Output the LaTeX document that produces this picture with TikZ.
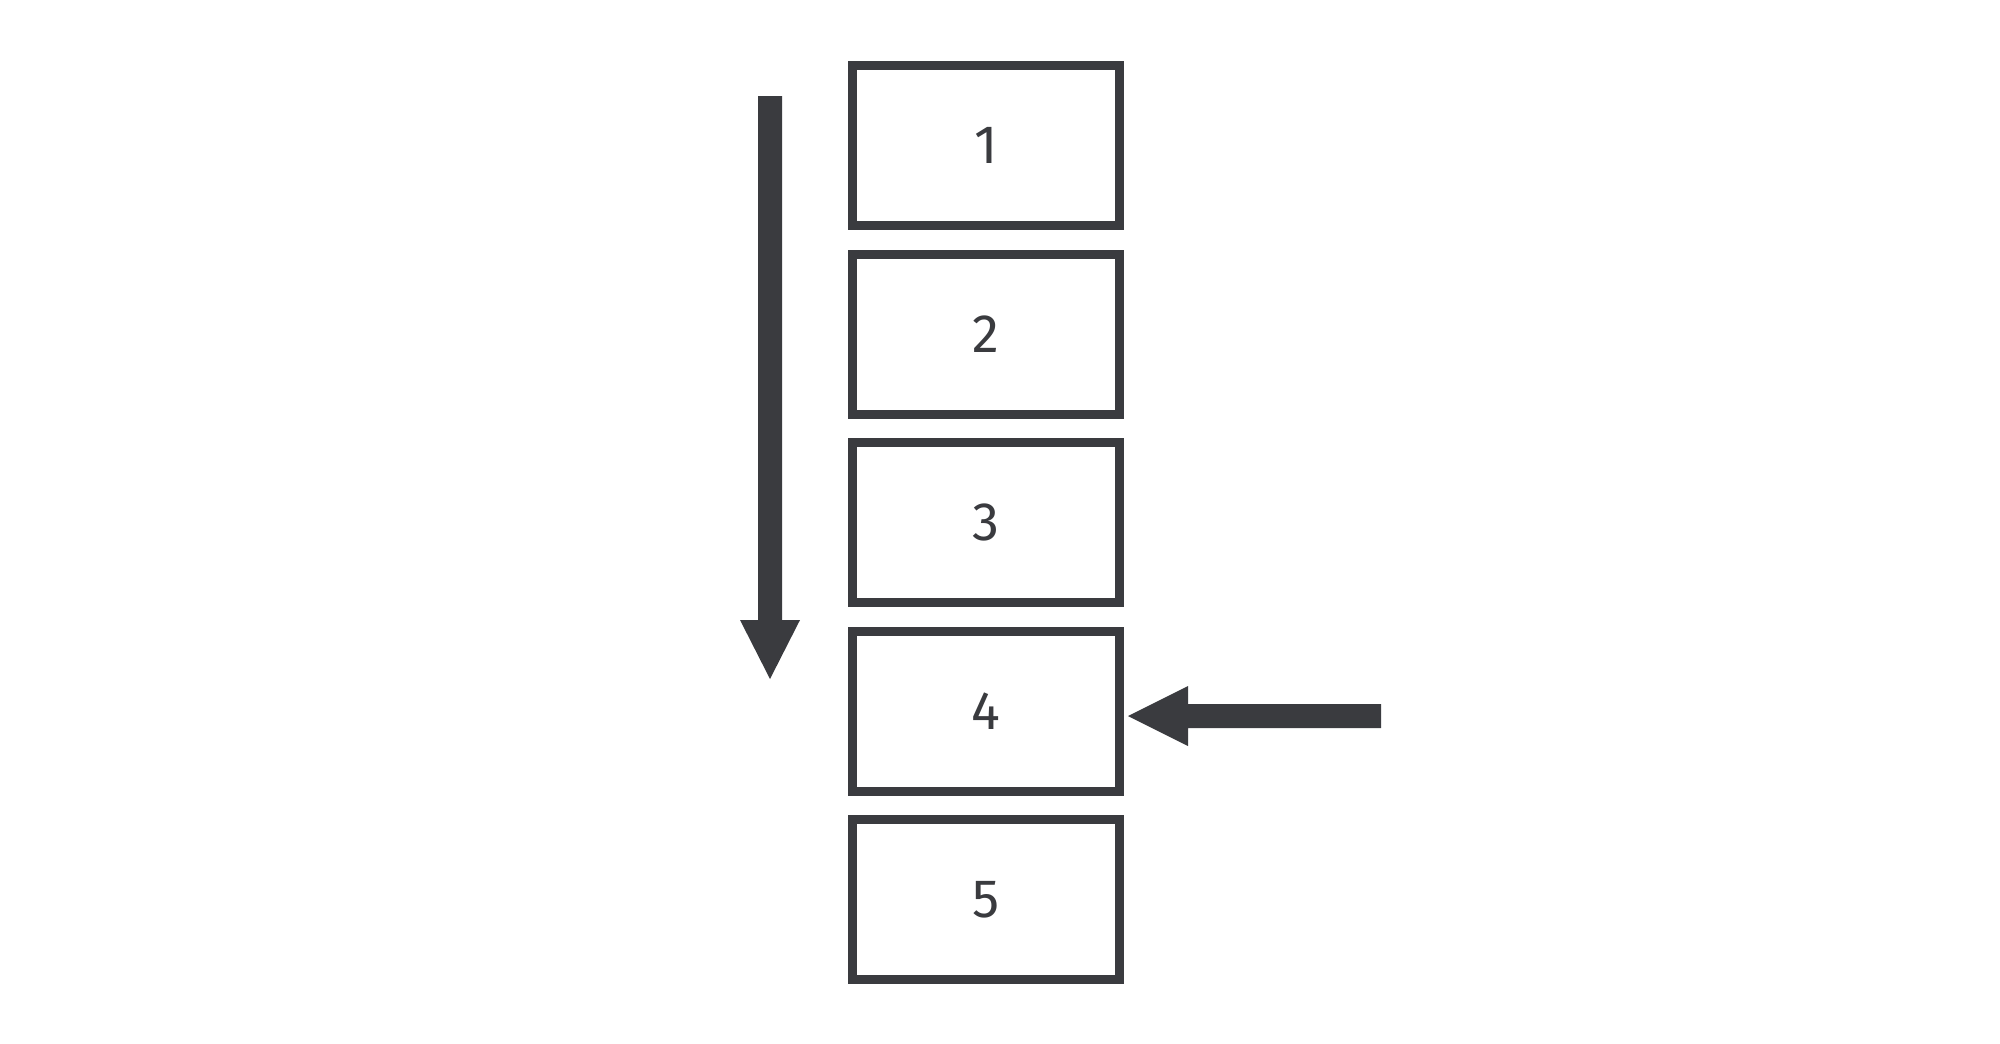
\documentclass[tikz,border=0pt]{standalone}
\usepackage{fontspec}
\setmainfont{Fira Sans}
\definecolor{ink}{HTML}{3A3B3F}
\begin{document}
\begin{tikzpicture}[x=1pt,y=-1pt,
  box/.style={draw=ink,line width=9pt,minimum width=267pt,minimum height=160pt,inner sep=0pt,text=ink,font=\fontsize{54}{60}\selectfont},
  arr/.style={fill=ink,draw=none}]
\useasboundingbox (0,0) rectangle (2000,1044);
\foreach \i/\y in {1/145.5,2/334,3/522.5,4/711,5/899.5}
  \node[box] (b\i) at (986,\y) {\i};
\fill[arr] (758,96) -- (782,96) -- (782,620) -- (800,620) -- (770,679) -- (740,620) -- (758,620) -- cycle;
\coordinate (t) at (1128,716);
\fill[arr] (t) -- (1188,686) -- (1188,704) -- (1381,704) -- (1381,728) -- (1188,728) -- (1188,746) -- cycle;
\end{tikzpicture}
\end{document}
